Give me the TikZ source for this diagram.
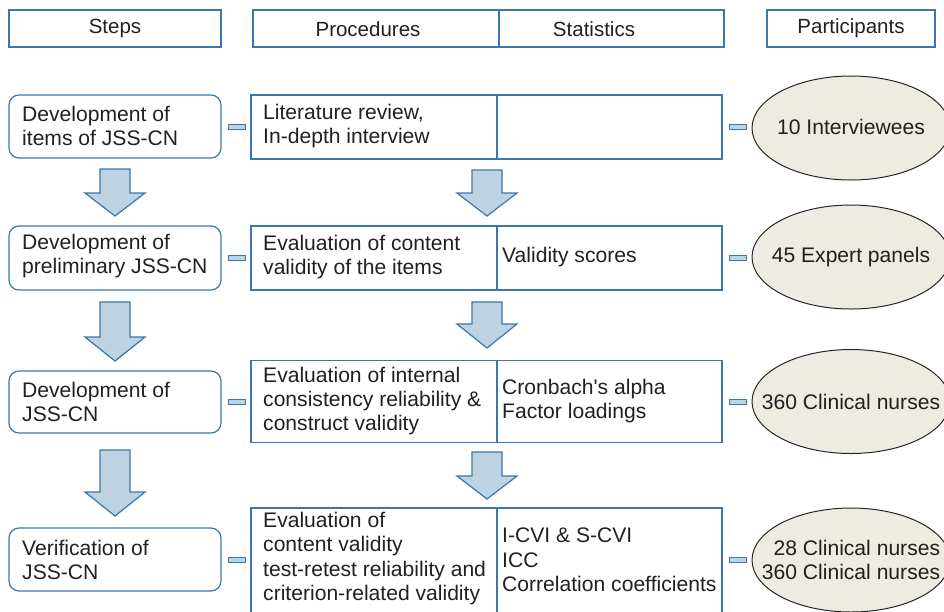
\documentclass[tikz,border=0pt]{standalone}
\usepackage{fontspec}
\setmainfont{Liberation Sans}[Ligatures=TeXOff]
\usetikzlibrary{shapes.geometric}
\definecolor{bord}{HTML}{3A76AF}
\definecolor{afill}{HTML}{BED3E2}
\definecolor{efill}{HTML}{EEEBE3}
\definecolor{txt}{HTML}{231F20}
\tikzset{
  boxline/.style={draw=bord, line width=1.2pt},
  hdrbox/.style={boxline, rectangle, inner sep=0pt, minimum height=37pt},
  stepbox/.style={boxline, rectangle, rounded corners=10pt, inner sep=0pt, minimum width=212pt},
  cellbox/.style={boxline, rectangle, inner sep=0pt},
  lbl/.style={inner sep=0pt, text=txt, align=left, font=\fontsize{21.1}{24.3}\selectfont},
  hdr/.style={inner sep=0pt, text=txt, font=\fontsize{20.5}{24}\selectfont},
  part/.style={ellipse, draw=black!85, line width=1pt, fill=efill, minimum width=198pt, minimum height=104pt, inner sep=0pt},
  bar/.style={rectangle, draw=bord, fill=afill, line width=0.9pt, minimum width=17pt, minimum height=4.5pt, inner sep=0pt},
  blockarrow/.style={draw=bord, fill=afill, line width=1.2pt, line join=miter}
}
\begin{document}
\begin{tikzpicture}[x=1pt,y=-1pt]
\useasboundingbox (0,0) rectangle (944,611);
\clip (0,0) rectangle (944,611);

% headers
\node[hdrbox, minimum width=212pt] (hs) at (115,28.5) {};
\node[hdrbox, minimum width=246pt] (hp) at (376,28.5) {};
\node[hdrbox, minimum width=225pt] (hst) at (611.5,28.5) {};
\node[hdrbox, minimum width=168pt] (hpa) at (851,28.5) {};
\node[hdr] (hst1) at (115,28) {Steps};
\node[hdr] (hp1) at (368,29) {Procedures};
\node[hdr] (hst2) at (594,29) {Statistics};
\node[hdr] (hpa1) at (851,28) {Participants};

% step boxes
\node[stepbox, minimum height=63pt] (s1) at (115,126.5) {};
\node[stepbox, minimum height=64pt] (s2) at (115,258) {};
\node[stepbox, minimum height=62pt] (s3) at (115,402) {};
\node[stepbox, minimum height=63pt] (s4) at (115,559.5) {};
\node[lbl, anchor=west] (s1t) at (22,126) {Development of\\items of JSS-CN};
\node[lbl, anchor=west] (s2t) at (22,256) {Development of\\preliminary JSS-CN};
\node[lbl, anchor=west] (s3t) at (22,402) {Development of\\JSS-CN};
\node[lbl, anchor=west] (s4t) at (22,560) {Verification of\\JSS-CN};

% procedure cells
\node[cellbox, minimum width=246pt, minimum height=64pt] (p1) at (374,127) {};
\node[cellbox, minimum width=225pt, minimum height=64pt] (t1) at (609.5,127) {};
\node[cellbox, minimum width=246pt, minimum height=64pt] (p2) at (374,258) {};
\node[cellbox, minimum width=225pt, minimum height=64pt] (t2) at (609.5,258) {};
\node[cellbox, minimum width=246pt, minimum height=82pt] (p3) at (374,401.5) {};
\node[cellbox, minimum width=225pt, minimum height=82pt] (t3) at (609.5,401.5) {};
\node[cellbox, minimum width=246pt, minimum height=107pt] (p4) at (374,561.5) {};
\node[cellbox, minimum width=225pt, minimum height=107pt] (t4) at (609.5,561.5) {};

\node[lbl, anchor=west] (p1t) at (263,126) {Literature review,\\In-depth interview};
\node[lbl, anchor=west] (p2t) at (263,257) {Evaluation of content\\validity of the items};
\node[lbl, anchor=west] (t2t) at (502,257) {Validity scores};
\node[lbl, anchor=west] (p3t) at (263,401) {Evaluation of internal\\consistency reliability \&\\construct validity};
\node[lbl, anchor=west] (t3t) at (502,401) {Cronbach's alpha\\Factor loadings};
\node[lbl, anchor=west] (p4t) at (263,558.5) {Evaluation of\\content validity\\test-retest reliability and\\criterion-related validity};
\node[lbl, anchor=west] (t4t) at (502,560) {I-CVI \& S-CVI\\ICC\\Correlation coefficients};

% participants
\node[part] (e1) at (851,128) {};
\node[part] (e2) at (851,257) {};
\node[part] (e3) at (851,401.5) {};
\node[part] (e4) at (851,560) {};
\node[lbl] (e1t) at (851,127) {10 Interviewees};
\node[lbl] (e2t) at (851,257) {45 Expert panels};
\node[lbl] (e3t) at (851,401.5) {360 Clinical nurses};
\node[lbl, align=right] (e4t) at (851,560) {28 Clinical nurses\\360 Clinical nurses};

% small link bars
\node[bar] (b1a) at (236.5,127) {};
\node[bar] (b2a) at (236.5,258) {};
\node[bar] (b3a) at (236.5,402) {};
\node[bar] (b4a) at (236.5,560) {};
\node[bar] (b1b) at (737.5,127) {};
\node[bar] (b2b) at (737.5,258) {};
\node[bar] (b3b) at (737.5,402) {};
\node[bar] (b4b) at (737.5,560) {};

% block arrows, left column
\draw[blockarrow] (100,169) -- (130,169) -- (130,193) -- (145,193) -- (115,216) -- (85,193) -- (100,193) -- cycle;
\draw[blockarrow] (100,302) -- (130,302) -- (130,337) -- (145,337) -- (115,361) -- (85,337) -- (100,337) -- cycle;
\draw[blockarrow] (100,450) -- (130,450) -- (130,492) -- (145,492) -- (115,516) -- (85,492) -- (100,492) -- cycle;
% block arrows, middle column
\draw[blockarrow] (472,170) -- (502,170) -- (502,193) -- (517,193) -- (487,216) -- (457,193) -- (472,193) -- cycle;
\draw[blockarrow] (472,302) -- (502,302) -- (502,324) -- (517,324) -- (487,348) -- (457,324) -- (472,324) -- cycle;
\draw[blockarrow] (472,452) -- (502,452) -- (502,476) -- (517,476) -- (487,499) -- (457,476) -- (472,476) -- cycle;
\end{tikzpicture}
\end{document}
